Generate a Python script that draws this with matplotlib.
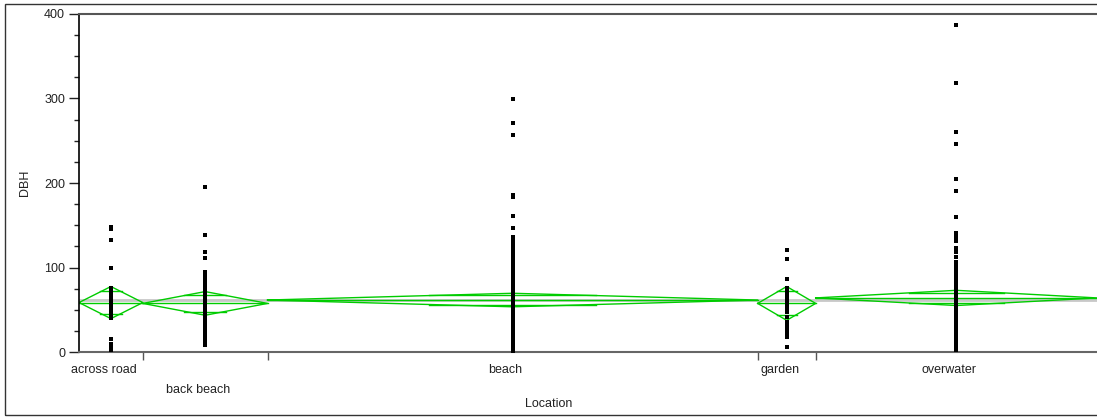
import numpy as np
import matplotlib.pyplot as plt
from matplotlib.patches import Rectangle

plt.rcParams['font.family'] = ['Liberation Sans', 'DejaVu Sans']

# groups, their sizes (column widths) and means-diamond stats
locations = ['across road', 'back beach', 'beach', 'garden', 'overwater']
counts = [22, 43, 169, 20, 97]
means = [58.5, 57.5, 61.5, 57.5, 64.0]
ci_half = [19, 14, 8, 20, 9]
grand_mean = 61.5
label_row = [0, 1, 0, 0, 0]

# DBH values per location
across_road = [148, 145, 133, 99, 76, 73, 70, 66, 62, 58, 54, 50, 46, 42, 40,
               15, 10, 5, 2]
back_beach = [195, 138, 118, 111, 95, 92, 89, 85, 81, 76, 73, 70, 67, 63, 60,
              57, 52, 48, 45, 42, 38, 35, 32, 28, 25, 22, 18, 14, 11, 8]
beach = [299, 271, 257, 186, 184, 161, 147, 136, 133, 130, 126, 122, 119, 116, 112,
         108, 105, 101, 98, 95, 92, 89, 87, 85, 83, 81, 79, 77,
         75, 73, 71, 69, 67, 65, 63, 61, 59, 57, 55, 53, 51, 49, 47, 45, 43, 41,
         39, 37, 35, 33, 31, 29, 27, 25, 23, 21, 19, 17, 15, 13, 11, 9, 7, 5, 3, 1]
garden = [121, 110, 86, 76, 73, 70, 66, 62, 58, 54, 50, 47, 41, 36, 31, 27, 23,
          18, 6]
overwater = [387, 318, 260, 246, 205, 190, 160, 141, 136, 131, 123, 118, 112, 107,
             103, 99, 95, 91, 88, 85, 82, 79, 76, 73, 70, 67, 64, 61, 58, 55,
             52, 50, 48, 46, 44, 42, 40, 37, 34, 31, 28, 25, 22, 19, 16, 13, 10, 7,
             4, 2]
values = [across_road, back_beach, beach, garden, overwater]

W, H = 1097, 419
fig = plt.figure(figsize=(W / 100, H / 100), dpi=100)
ax = fig.add_axes([79 / W, 1 - 352 / H, 1018 / W, 338 / H])

green = '#00cc00'
edges = np.concatenate([[0], np.cumsum(counts)])

ax.axhline(grand_mean, color='#c8c8c8', lw=2, zorder=1)

for i, name in enumerate(locations):
    left, right = edges[i], edges[i + 1]
    mid = (left + right) / 2
    m, c = means[i], ci_half[i]
    # means diamond
    ax.plot([left, mid, right, mid, left], [m, m + c, m, m - c, m], color=green, lw=1, zorder=2)
    ax.plot([left, right], [m, m], color=green, lw=1, zorder=2)
    # overlap marks
    d = c / np.sqrt(2)
    half = (right - left) * 0.17
    ax.plot([mid - half, mid + half], [m + d, m + d], color=green, lw=1, zorder=2)
    ax.plot([mid - half, mid + half], [m - d, m - d], color=green, lw=1, zorder=2)
    # points
    ax.plot(np.full(len(values[i]), mid), values[i], 's', color='black', ms=2.7,
            mew=0, zorder=3, clip_on=False)
    # category label
    ax.annotate(name, xy=(mid, 0), xycoords=('data', 'axes fraction'),
                xytext=(-5, -13 - 14 * label_row[i]), textcoords='offset points',
                ha='center', va='center', fontsize=9, color='#222222')

ax.set_xlim(0, edges[-1])
ax.set_ylim(0, 400)
ax.set_xticks(edges[1:-1])
ax.set_xticklabels([])
ax.set_yticks([0, 100, 200, 300, 400])
ax.set_yticks(np.arange(0, 401, 25), minor=True)
ax.tick_params(axis='x', direction='out', length=6, width=1, color='#555555')
ax.tick_params(axis='y', which='major', direction='out', length=7, width=1,
               labelsize=9, pad=3, colors='#222222')
ax.tick_params(axis='y', which='minor', direction='out', length=3.5, width=1, color='#222222')

ax.spines['left'].set_color('black')
ax.spines['left'].set_linewidth(1.2)
ax.spines['bottom'].set_color('#666666')
ax.spines['bottom'].set_linewidth(1.5)
ax.spines['top'].set_color('#555555')
ax.spines['top'].set_linewidth(1.5)
ax.spines['right'].set_visible(False)

fig.text(25 / W, 1 - 183 / H, 'DBH', rotation=90, ha='center', va='center',
         fontsize=9, color='#222222')
fig.text(0.5, 1 - 404 / H, 'Location', ha='center', va='center', fontsize=9,
         color='#222222')

# outer frame
fig.add_artist(Rectangle((5 / W, 4 / H), 1.2, 1 - 8 / H, transform=fig.transFigure,
                         fill=False, ec='#333333', lw=1))

fig.savefig('out.png', dpi=100)
